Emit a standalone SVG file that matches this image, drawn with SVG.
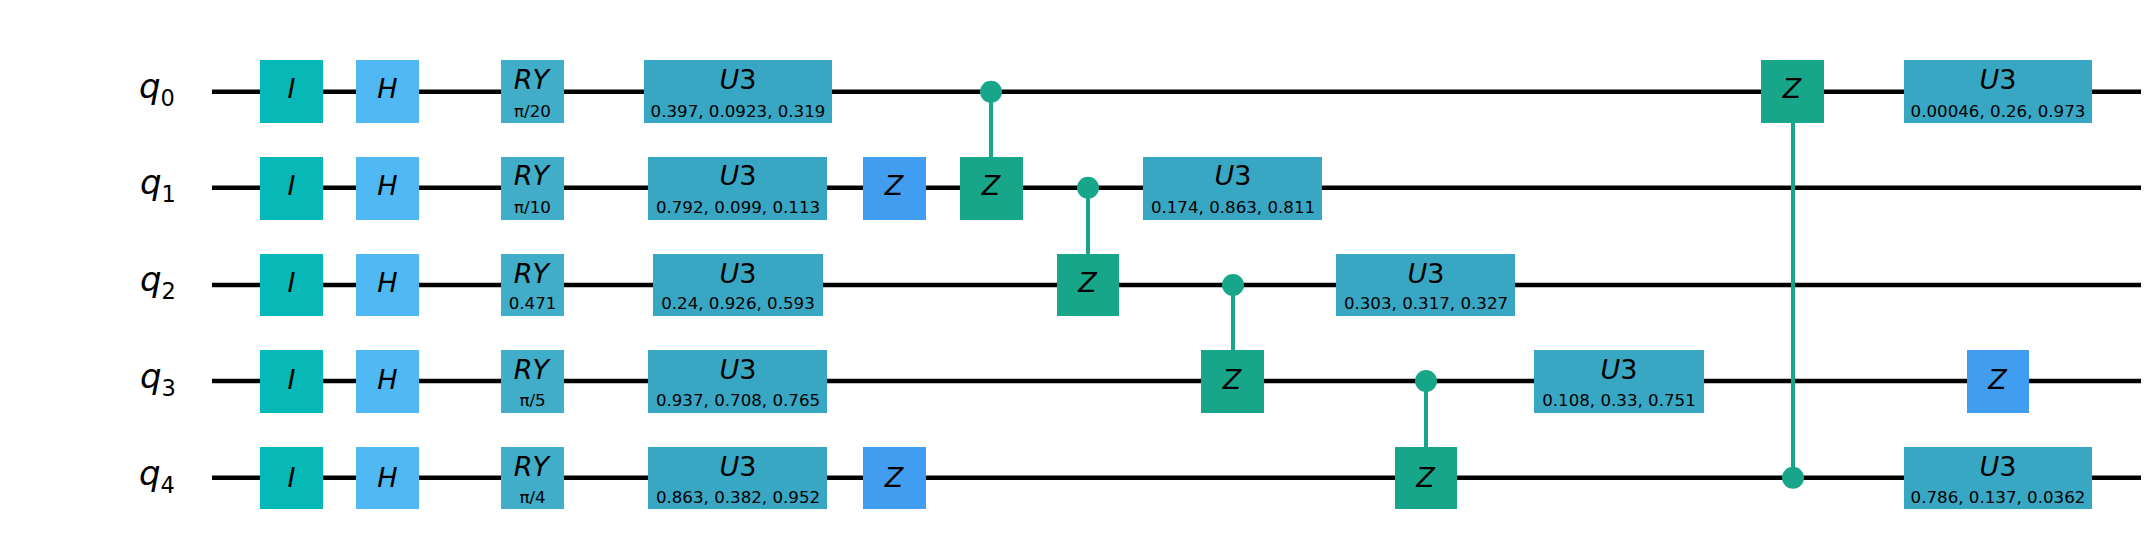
<svg xmlns="http://www.w3.org/2000/svg" width="2155" height="551" viewBox="0 0 2155 551">
<style>
text{font-family:"DejaVu Sans",sans-serif;fill:#000;text-anchor:middle}
.g{font-size:27px;font-style:italic}
.g tspan{font-style:normal}
.s{font-size:16.67px}
.q{font-size:34px;font-style:italic;text-anchor:start}
.q tspan{font-size:22.5px;font-style:normal}
.w{stroke:#000;stroke-width:4.6;fill:none}
.c{stroke:#18A68A;stroke-width:4;fill:none}
.d{fill:#18A68A}
.i{fill:#06B9B6}.h{fill:#50B9F3}.ry{fill:#40ADC9}.u{fill:#38A7C4}.z{fill:#409DF0}.cz{fill:#18A68A}
</style>
<rect width="2155" height="551" fill="#fff"/>
<g id="wires">
<path class="w" d="M212 91.8H2141M212 187.8H2141M212 285H2141M212 381H2141M212 477.8H2141"/>
</g>
<g id="labels">
<text class="q" x="139" y="98">q<tspan dy="8">0</tspan></text>
<text class="q" x="140" y="194">q<tspan dy="8">1</tspan></text>
<text class="q" x="140" y="291">q<tspan dy="8">2</tspan></text>
<text class="q" x="140" y="388">q<tspan dy="8">3</tspan></text>
<text class="q" x="139" y="485">q<tspan dy="8">4</tspan></text>
</g>
<g id="connectors">
<path class="c" d="M991 91.7V157M1088 187.7V254M1233 285V350M1426 381V447M1793 123V477.7"/>
<circle class="d" cx="991" cy="91.7" r="11"/>
<circle class="d" cx="1088" cy="187.7" r="11"/>
<circle class="d" cx="1233" cy="285" r="11"/>
<circle class="d" cx="1426" cy="381" r="11"/>
<circle class="d" cx="1793" cy="477.7" r="11"/>
</g>
<g id="i0"><rect class="i" x="260" y="60" width="63" height="63"/><text class="g" x="291.5" y="98.3">I</text></g>
<g id="i1"><rect class="i" x="260" y="157" width="63" height="63"/><text class="g" x="291.5" y="195.3">I</text></g>
<g id="i2"><rect class="i" x="260" y="254" width="63" height="62"/><text class="g" x="291.5" y="291.7">I</text></g>
<g id="i3"><rect class="i" x="260" y="350" width="63" height="63"/><text class="g" x="291.5" y="389.3">I</text></g>
<g id="i4"><rect class="i" x="260" y="447" width="63" height="62"/><text class="g" x="291.5" y="486.5">I</text></g>
<g id="h0"><rect class="h" x="356" y="60" width="63" height="63"/><text class="g" x="387.5" y="98.3">H</text></g>
<g id="h1"><rect class="h" x="356" y="157" width="63" height="63"/><text class="g" x="387.5" y="195.3">H</text></g>
<g id="h2"><rect class="h" x="356" y="254" width="63" height="62"/><text class="g" x="387.5" y="291.7">H</text></g>
<g id="h3"><rect class="h" x="356" y="350" width="63" height="63"/><text class="g" x="387.5" y="389.3">H</text></g>
<g id="h4"><rect class="h" x="356" y="447" width="63" height="62"/><text class="g" x="387.5" y="486.5">H</text></g>
<g id="ry0"><rect class="ry" x="501" y="60" width="63" height="63"/><text class="g" x="531.5" y="89.3">RY</text><text class="s" x="532.5" y="116.7">π/20</text></g>
<g id="ry1"><rect class="ry" x="501" y="157" width="63" height="63"/><text class="g" x="531.5" y="185.3">RY</text><text class="s" x="532.5" y="213.3">π/10</text></g>
<g id="ry2"><rect class="ry" x="501" y="254" width="63" height="62"/><text class="g" x="531.5" y="282.7">RY</text><text class="s" x="532.5" y="309.3">0.471</text></g>
<g id="ry3"><rect class="ry" x="501" y="350" width="63" height="63"/><text class="g" x="531.5" y="379.3">RY</text><text class="s" x="532.5" y="406">π/5</text></g>
<g id="ry4"><rect class="ry" x="501" y="447" width="63" height="62"/><text class="g" x="531.5" y="476">RY</text><text class="s" x="532.5" y="503.3">π/4</text></g>
<g id="u0"><rect class="u" x="644" y="60" width="188" height="63"/><text class="g" x="738" y="89.3">U<tspan>3</tspan></text><text class="s" x="738" y="116.7">0.397, 0.0923, 0.319</text></g>
<g id="u1"><rect class="u" x="648" y="157" width="179" height="63"/><text class="g" x="738" y="185.3">U<tspan>3</tspan></text><text class="s" x="738" y="213.3">0.792, 0.099, 0.113</text></g>
<g id="u2"><rect class="u" x="653" y="254" width="170" height="62"/><text class="g" x="738" y="282.7">U<tspan>3</tspan></text><text class="s" x="738" y="309.3">0.24, 0.926, 0.593</text></g>
<g id="u3"><rect class="u" x="648" y="350" width="179" height="63"/><text class="g" x="738" y="379.3">U<tspan>3</tspan></text><text class="s" x="738" y="406">0.937, 0.708, 0.765</text></g>
<g id="u4"><rect class="u" x="648" y="447" width="179" height="62"/><text class="g" x="738" y="476">U<tspan>3</tspan></text><text class="s" x="738" y="503.3">0.863, 0.382, 0.952</text></g>
<g id="z1"><rect class="z" x="863" y="157" width="63" height="63"/><text class="g" x="894" y="195.3">Z</text></g>
<g id="z4"><rect class="z" x="863" y="447" width="63" height="62"/><text class="g" x="894" y="486.5">Z</text></g>
<g id="cz01"><rect class="cz" x="960" y="157" width="63" height="63"/><text class="g" x="991" y="195.3">Z</text></g>
<g id="cz12"><rect class="cz" x="1057" y="254" width="62" height="62"/><text class="g" x="1087.5" y="291.7">Z</text></g>
<g id="u5"><rect class="u" x="1143" y="157" width="179" height="63"/><text class="g" x="1233" y="185.3">U<tspan>3</tspan></text><text class="s" x="1233" y="213.3">0.174, 0.863, 0.811</text></g>
<g id="cz23"><rect class="cz" x="1201" y="350" width="63" height="63"/><text class="g" x="1232" y="389.3">Z</text></g>
<g id="u6"><rect class="u" x="1336" y="254" width="179" height="62"/><text class="g" x="1426" y="282.7">U<tspan>3</tspan></text><text class="s" x="1426" y="309.3">0.303, 0.317, 0.327</text></g>
<g id="cz34"><rect class="cz" x="1395" y="447" width="62" height="62"/><text class="g" x="1425.5" y="486.5">Z</text></g>
<g id="u7"><rect class="u" x="1534" y="350" width="170" height="63"/><text class="g" x="1619" y="379.3">U<tspan>3</tspan></text><text class="s" x="1619" y="406">0.108, 0.33, 0.751</text></g>
<g id="cz40"><rect class="cz" x="1761" y="60" width="63" height="63"/><text class="g" x="1792" y="98.3">Z</text></g>
<g id="u8"><rect class="u" x="1904" y="60" width="188" height="63"/><text class="g" x="1998" y="89.3">U<tspan>3</tspan></text><text class="s" x="1998" y="116.7">0.00046, 0.26, 0.973</text></g>
<g id="z3"><rect class="z" x="1967" y="350" width="62" height="63"/><text class="g" x="1997.5" y="389.3">Z</text></g>
<g id="u9"><rect class="u" x="1904" y="447" width="188" height="62"/><text class="g" x="1998" y="476">U<tspan>3</tspan></text><text class="s" x="1998" y="503.3">0.786, 0.137, 0.0362</text></g>
</svg>
